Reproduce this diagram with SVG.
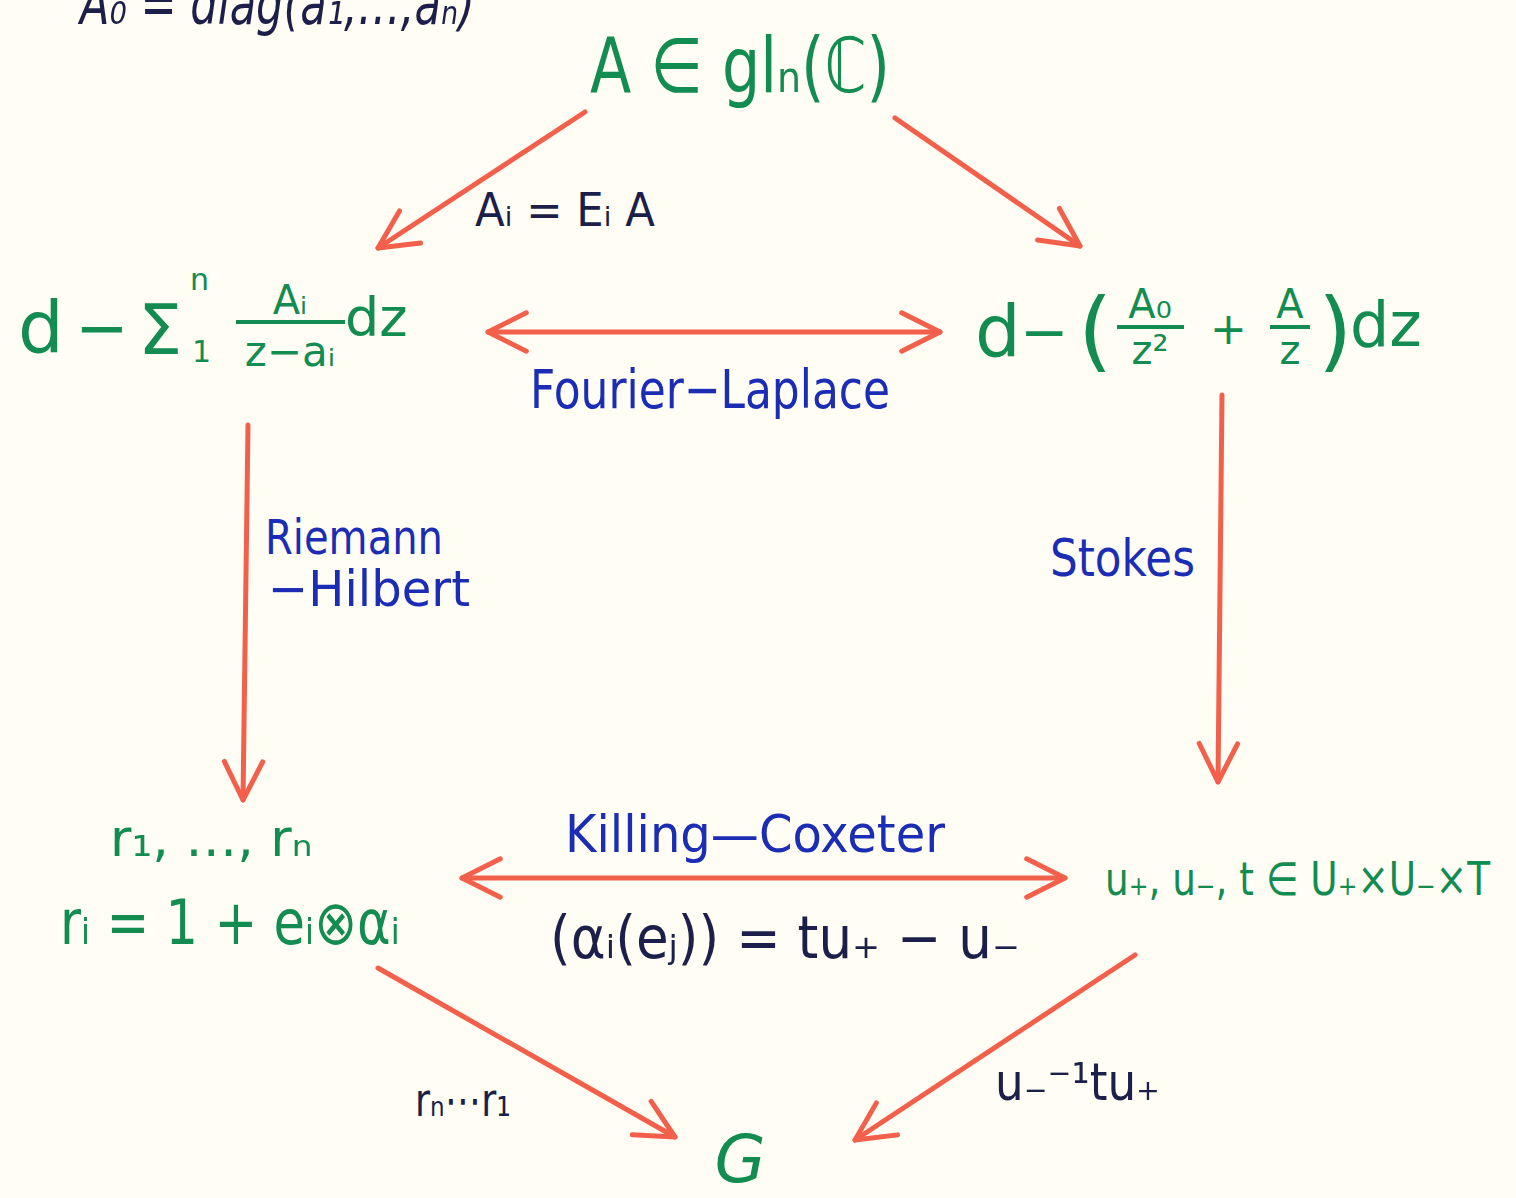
<svg xmlns="http://www.w3.org/2000/svg" width="1516" height="1198" viewBox="0 0 1516 1198">
<defs>
<marker id="head" viewBox="0 0 12 12" refX="11" refY="6" markerWidth="46" markerHeight="46" markerUnits="userSpaceOnUse" orient="auto-start-reverse">
<path d="M1,1 L11,6 L1,11" fill="none" stroke="#f2604c" stroke-width="1.3" stroke-linecap="round" stroke-linejoin="round"/>
</marker>
<style>
.g{fill:#128c50;font-family:"DejaVu Sans","Liberation Sans",sans-serif}
.b{fill:#1a2db4;font-family:"DejaVu Sans","Liberation Sans",sans-serif}
.k{fill:#1b1f4a;font-family:"DejaVu Sans","Liberation Sans",sans-serif}
.e{stroke:#f2604c;stroke-width:5;fill:none;stroke-linecap:round}
.fr{stroke:#128c50;stroke-width:4}
</style>
</defs>
<rect width="1516" height="1198" fill="#fffdf4"/>
<text class="k" x="80" y="24" font-size="58" font-style="italic" textLength="395" lengthAdjust="spacingAndGlyphs">A₀ = diag(a₁,…,aₙ)</text>

<g id="connectors">
<line class="e" x1="585" y1="112" x2="378" y2="248" marker-end="url(#head)"/>
<line class="e" x1="895" y1="118" x2="1080" y2="246" marker-end="url(#head)"/>
<line class="e" x1="488" y1="332" x2="940" y2="332" marker-start="url(#head)" marker-end="url(#head)"/>
<line class="e" x1="248" y1="425" x2="243" y2="800" marker-end="url(#head)"/>
<line class="e" x1="1222" y1="395" x2="1218" y2="782" marker-end="url(#head)"/>
<line class="e" x1="462" y1="878" x2="1065" y2="878" marker-start="url(#head)" marker-end="url(#head)"/>
<line class="e" x1="378" y1="968" x2="675" y2="1137" marker-end="url(#head)"/>
<line class="e" x1="1135" y1="955" x2="855" y2="1140" marker-end="url(#head)"/>
<text class="k" x="475" y="226" font-size="46" textLength="180" lengthAdjust="spacingAndGlyphs">Aᵢ = Eᵢ A</text>
<text class="b" x="530" y="408" font-size="54" textLength="360" lengthAdjust="spacingAndGlyphs">Fourier−Laplace</text>
<text class="b" x="265" y="554" font-size="48" textLength="178" lengthAdjust="spacingAndGlyphs">Riemann</text>
<text class="b" x="268" y="606" font-size="50" textLength="202" lengthAdjust="spacingAndGlyphs">−Hilbert</text>
<text class="b" x="1050" y="576" font-size="52" textLength="145" lengthAdjust="spacingAndGlyphs">Stokes</text>
<text class="b" x="565" y="852" font-size="52" textLength="380" lengthAdjust="spacingAndGlyphs">Killing—Coxeter</text>
<text class="k" x="550" y="958" font-size="58" textLength="470" lengthAdjust="spacingAndGlyphs">(αᵢ(eⱼ)) = tu₊ − u₋</text>
<text class="k" x="415" y="1116" font-size="46" textLength="96" lengthAdjust="spacingAndGlyphs">rₙ⋯r₁</text>
<text class="k" x="995" y="1100" font-size="52" textLength="165" lengthAdjust="spacingAndGlyphs">u₋⁻¹tu₊</text>
</g>

<g id="n-top">
<text class="g" x="590" y="92" font-size="76" textLength="300" lengthAdjust="spacingAndGlyphs">A ∈ glₙ(ℂ)</text>
</g>

<g id="n-left">
<text class="g" x="18" y="352" font-size="72">d</text>
<text class="g" x="75" y="350" font-size="64">−</text>
<text class="g" x="138" y="354" font-size="70">Σ</text>
<text class="g" x="190" y="290" font-size="30">n</text>
<text class="g" x="192" y="362" font-size="30">1</text>
<text class="g" x="290" y="314" font-size="40" text-anchor="middle">Aᵢ</text>
<line class="fr" x1="236" y1="322" x2="345" y2="322"/>
<text class="g" x="290" y="366" font-size="42" text-anchor="middle">z−aᵢ</text>
<text class="g" x="345" y="336" font-size="54">dz</text>
</g>

<g id="n-right">
<text class="g" x="975" y="356" font-size="72">d</text>
<text class="g" x="1020" y="352" font-size="58">−</text>
<text class="g" x="1078" y="360" font-size="88">(</text>
<text class="g" x="1150" y="318" font-size="40" text-anchor="middle">A₀</text>
<line class="fr" x1="1117" y1="327" x2="1184" y2="327"/>
<text class="g" x="1150" y="364" font-size="40" text-anchor="middle">z²</text>
<text class="g" x="1210" y="344" font-size="44">+</text>
<text class="g" x="1290" y="318" font-size="40" text-anchor="middle">A</text>
<line class="fr" x1="1270" y1="327" x2="1310" y2="327"/>
<text class="g" x="1290" y="364" font-size="40" text-anchor="middle">z</text>
<text class="g" x="1318" y="360" font-size="88">)</text>
<text class="g" x="1350" y="346" font-size="62">dz</text>
</g>

<g id="n-bl">
<text class="g" x="110" y="856" font-size="52">r₁, …, rₙ</text>
<text class="g" x="60" y="944" font-size="62" textLength="340" lengthAdjust="spacingAndGlyphs">rᵢ = 1 + eᵢ⊗αᵢ</text>
</g>

<g id="n-br">
<text class="g" x="1105" y="895" font-size="46" textLength="385" lengthAdjust="spacingAndGlyphs">u₊, u₋, t ∈ U₊×U₋×T</text>
</g>

<g id="n-g">
<text class="g" x="740" y="1182" font-size="66" font-style="italic" text-anchor="middle">G</text>
</g>
</svg>
